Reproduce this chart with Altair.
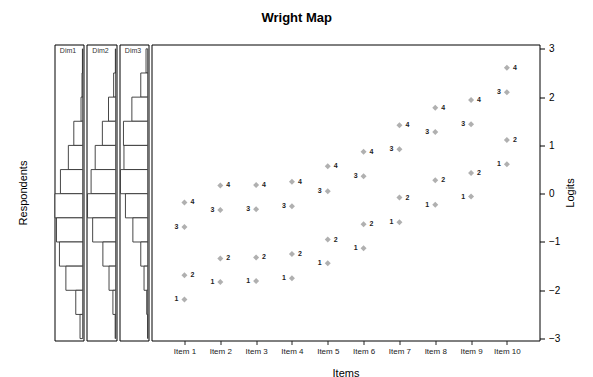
import altair as alt
import pandas as pd

# ---- data ----
items = ["Item 1", "Item 2", "Item 3", "Item 4", "Item 5",
         "Item 6", "Item 7", "Item 8", "Item 9", "Item 10"]
thr1 = [-2.19, -1.83, -1.81, -1.75, -1.44, -1.13, -0.59, -0.23, -0.06, 0.61]
thr2 = [-1.69, -1.34, -1.32, -1.25, -0.95, -0.63, -0.08, 0.28, 0.43, 1.11]
thr3 = [-0.69, -0.34, -0.32, -0.26, 0.05, 0.36, 0.92, 1.28, 1.44, 2.10]
thr4 = [-0.18, 0.17, 0.18, 0.25, 0.57, 0.87, 1.42, 1.78, 1.94, 2.61]

bin_upper = [3.0, 2.5, 2.0, 1.5, 1.0, 0.5, 0.0, -0.5, -1.0, -1.5, -2.0, -2.5]
bin_lower = [2.5, 2.0, 1.5, 1.0, 0.5, 0.0, -0.5, -1.0, -1.5, -2.0, -2.5, -3.0]
dim1 = [0.3, 0.7, 1.7, 9.0, 14.5, 22.5, 28.0, 26.5, 23.5, 17.0, 7.0, 2.7]
dim2 = [0.3, 2.0, 7.0, 13.0, 20.0, 24.0, 27.5, 22.5, 12.5, 6.5, 2.7, 0.5]
dim3 = [1.7, 7.0, 16.0, 24.5, 24.0, 27.5, 22.5, 15.0, 7.0, 3.7, 1.0, 0.0]
dim_names = ["Dim1", "Dim2", "Dim3"]

FONT = "Liberation Sans"
YDOM = [-3.04, 3.09]
H = 296

rows = []
for i, name in enumerate(items):
    for t, vals in zip([1, 2, 3, 4], [thr1, thr2, thr3, thr4]):
        rows.append({"item": i + 1, "name": name, "thr": t, "logit": vals[i]})
pts = pd.DataFrame(rows)

yscale = alt.Scale(domain=YDOM, nice=False, zero=False)


def hist_panel(name, counts, width, first):
    df = pd.DataFrame({"upper": bin_upper, "lower": bin_lower, "count": counts})
    if first:
        yaxis = alt.Axis(labels=False, ticks=False, domain=False, grid=False,
                         title="Respondents", titleFont=FONT, titleFontSize=11,
                         titleFontWeight="normal", titlePadding=26, titleColor="#000")
    else:
        yaxis = None
    bars = alt.Chart(df).mark_rect(fill="white", stroke="#333", strokeWidth=0.9).encode(
        x=alt.X("count:Q", scale=alt.Scale(domain=[-0.8, 28.5], reverse=True, nice=False, zero=False), axis=None),
        x2=alt.datum(0),
        y=alt.Y("upper:Q", scale=yscale, axis=yaxis),
        y2="lower:Q",
    )
    label = alt.Chart(pd.DataFrame({"t": [name]})).mark_text(
        font=FONT, fontSize=7, color="#333", baseline="middle", align="center"
    ).encode(x=alt.value(width / 2 - 1), y=alt.value(6), text="t:N")
    return alt.layer(bars, label).properties(width=width, height=H)


p1 = hist_panel(dim_names[0], dim1, 29, True)
p2 = hist_panel(dim_names[1], dim2, 30, False)
p3 = hist_panel(dim_names[2], dim3, 29, False)

xscale = alt.Scale(domain=[0.08, 10.91], nice=False, zero=False)
xaxis = alt.Axis(values=list(range(1, 11)), labelExpr="'Item ' + datum.value",
                 tickSize=4, labelFontSize=8, labelFont=FONT, labelColor="#222",
                 grid=False, domain=False, title="Items", titleFont=FONT,
                 titleFontSize=11, titleFontWeight="normal", titlePadding=12,
                 labelPadding=3, tickColor="#222")
yaxis_main = alt.Axis(orient="right", values=[-3, -2, -1, 0, 1, 2, 3], tickSize=5,
                      labelFontSize=10, labelFont=FONT, labelColor="#000", grid=False,
                      domain=False, title="Logits", titleFont=FONT, titleFontSize=11,
                      titleFontWeight="normal", titleAngle=270, titlePadding=16,
                      labelPadding=4, tickColor="#000")

base = alt.Chart(pts).encode(
    x=alt.X("item:Q", scale=xscale, axis=xaxis),
    y=alt.Y("logit:Q", scale=yscale, axis=yaxis_main),
)
diamonds = base.mark_point(shape="diamond", filled=True, color="#b0b0b0", size=36, opacity=1)
lab_left = base.transform_filter("datum.thr % 2 == 1").mark_text(
    align="right", dx=-6, fontSize=7, font=FONT, fontWeight="bold", color="#222", baseline="middle"
).encode(text="thr:N")
lab_right = base.transform_filter("datum.thr % 2 == 0").mark_text(
    align="left", dx=6, fontSize=7, font=FONT, fontWeight="bold", color="#222", baseline="middle"
).encode(text="thr:N")
main = alt.layer(diamonds, lab_left, lab_right).properties(width=388, height=H)

chart = alt.hconcat(p1, p2, p3, main, spacing=1).properties(
    title=alt.TitleParams("Wright Map", font=FONT, fontSize=13, fontWeight="bold",
                          anchor="middle", offset=18, color="#000"),
    padding={"left": 8.5, "top": 3.5, "right": 5, "bottom": 5},
).configure(
    background="white",
    view=alt.ViewConfig(stroke="#000", strokeWidth=1, cornerRadius=0),
)

chart.save("out.html", embed_options={"renderer": "svg", "actions": False})
